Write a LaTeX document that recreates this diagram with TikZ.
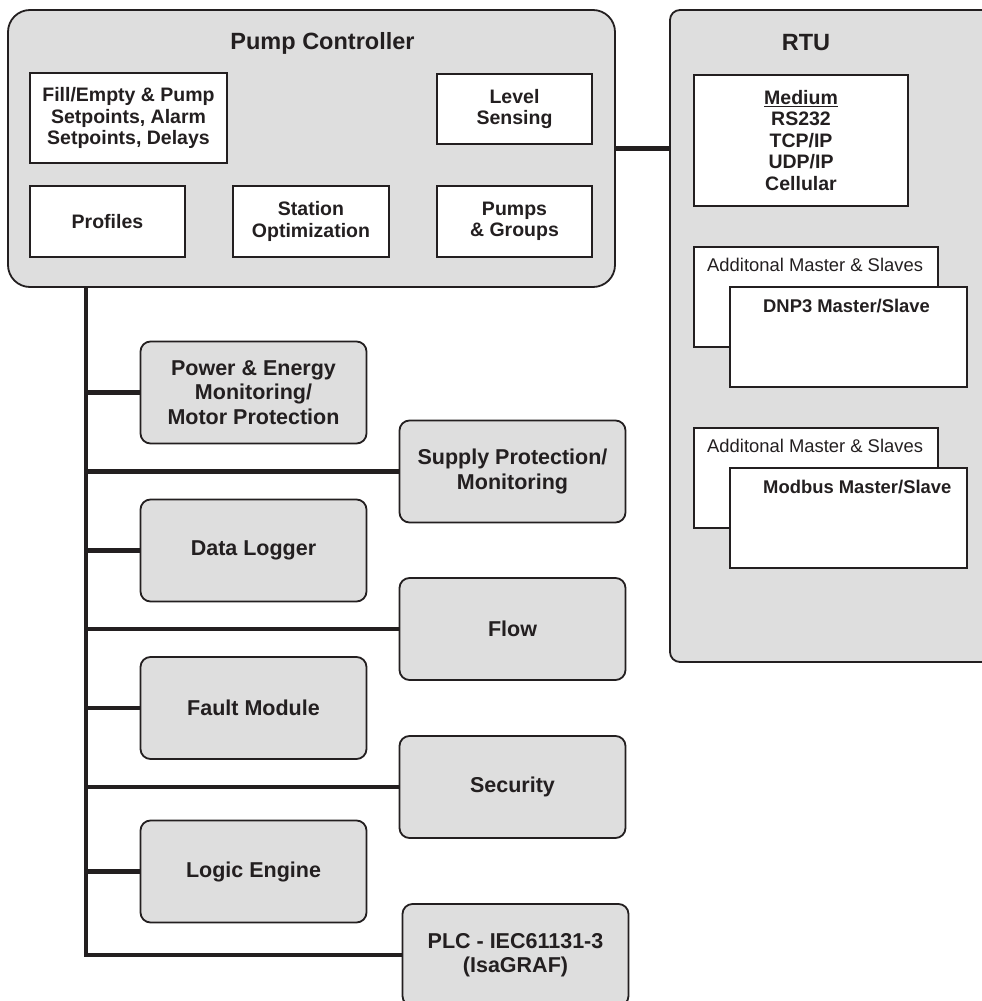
\documentclass[tikz,border=0pt]{standalone}
\usepackage{fontspec}
\setmainfont{Liberation Sans}
\definecolor{panelgray}{RGB}{222,222,222}
\definecolor{ink}{RGB}{35,31,32}
\newcommand\boxfont{\fontsize{19.5}{21.5}\selectfont\bfseries}
\newcommand\modfont{\fontsize{21.5}{24.5}\selectfont\bfseries}
\newcommand\titlefont{\fontsize{23.5}{28}\selectfont\bfseries}
\newcommand\smallfont{\fontsize{18.4}{21}\selectfont}

\begin{document}
\begin{tikzpicture}[x=1pt,y=-1pt,
  every node/.style={text=ink},
  panel/.style={draw=ink,line width=1.8pt,fill=panelgray,rounded corners=22pt,inner sep=0},
  whitebox/.style={draw=ink,line width=1.8pt,fill=white,align=center,font=\boxfont,inner sep=0},
  module/.style={draw=ink,line width=1.8pt,fill=panelgray,rounded corners=10pt,align=center,font=\modfont,inner sep=0,minimum width=226pt,minimum height=102pt},
  bus/.style={draw=ink,line width=4.8pt}]
\clip (0,0) rectangle (982,1001);

% pump controller
\node[panel,minimum width=607pt,minimum height=277pt] (pc) at (311.5,148.5) {};
\node[font=\titlefont] (pctitle) at (322.5,43) {Pump Controller};
\node[whitebox,minimum width=197pt,minimum height=90pt] (fill) at (128.5,118) {Fill/Empty \& Pump\\Setpoints, Alarm\\Setpoints, Delays};
\node[whitebox,minimum width=155pt,minimum height=70pt] (level) at (514.5,109) {Level\\Sensing};
\node[whitebox,minimum width=155pt,minimum height=71pt] (profiles) at (107.5,221.5) {Profiles};
\node[whitebox,minimum width=156pt,minimum height=71pt] (station) at (311,221.5) {Station\\Optimization};
\node[whitebox,minimum width=155pt,minimum height=71pt] (pumps) at (514.5,221.5) {Pumps\\\& Groups};

% RTU
\node[panel,rounded corners=10pt,minimum width=340pt,minimum height=652pt] (rtu) at (840,336) {};
\node[font=\titlefont] (rtutitle) at (806,43) {RTU};
\node[whitebox,minimum width=214pt,minimum height=131pt] (medium) at (801,140.5) {\underline{Medium}\\RS232\\TCP/IP\\UDP/IP\\Cellular};

\node[whitebox,minimum width=244pt,minimum height=100pt] (dnpextra) at (816,297) {};
\node[font=\smallfont,anchor=west,inner sep=0] (dnpextratext) at (707,265) {Additonal Master \& Slaves};
\node[whitebox,minimum width=237pt,minimum height=100pt] (dnp) at (848.5,337) {};
\node[font=\smallfont\bfseries,anchor=west,inner sep=0] (dnptext) at (763,306) {DNP3 Master/Slave};

\node[whitebox,minimum width=244pt,minimum height=100pt] (modextra) at (816,478) {};
\node[font=\smallfont,anchor=west,inner sep=0] (modextratext) at (707,446) {Additonal Master \& Slaves};
\node[whitebox,minimum width=237pt,minimum height=100pt] (modbus) at (848.5,518) {};
\node[font=\smallfont\bfseries,anchor=west,inner sep=0] (modbustext) at (763,487) {Modbus Master/Slave};

\draw[bus] (pc.east) -- (pc.east -| rtu.west);

% modules on the bus
\node[module] (power) at (253.5,392.5) {Power \& Energy\\Monitoring/\\Motor Protection};
\node[module] (supply) at (512.5,471.5) {Supply Protection/\\Monitoring};
\node[module] (logger) at (253.5,550.5) {Data Logger};
\node[module] (flow) at (512.5,629) {Flow};
\node[module] (fault) at (253.5,708) {Fault Module};
\node[module] (security) at (512.5,787) {Security};
\node[module] (logic) at (253.5,871.5) {Logic Engine};
\node[module] (plc) at (515.5,955) {PLC - IEC61131-3\\(IsaGRAF)};

\coordinate (bustop) at (86,288);
\draw[bus] (bustop) |- (plc.west);
\draw[bus] (bustop |- power.west) -- (power.west);
\draw[bus] (bustop |- supply.west) -- (supply.west);
\draw[bus] (bustop |- logger.west) -- (logger.west);
\draw[bus] (bustop |- flow.west) -- (flow.west);
\draw[bus] (bustop |- fault.west) -- (fault.west);
\draw[bus] (bustop |- security.west) -- (security.west);
\draw[bus] (bustop |- logic.west) -- (logic.west);
\end{tikzpicture}
\end{document}
